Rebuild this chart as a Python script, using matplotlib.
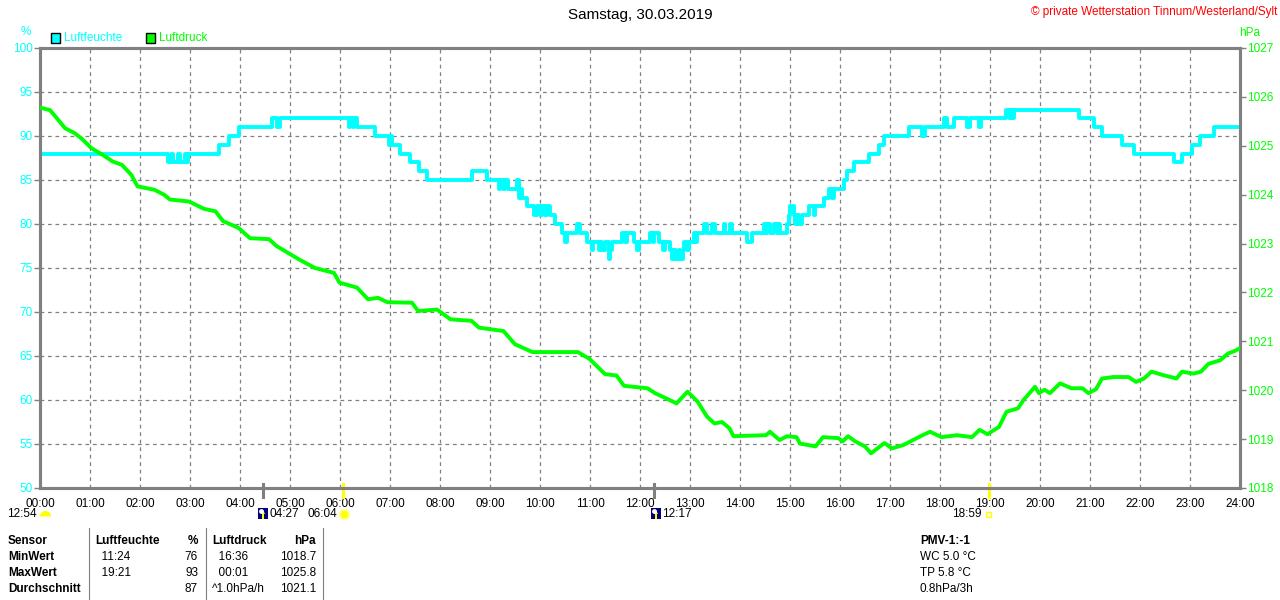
import matplotlib
matplotlib.use("Agg")
import matplotlib.pyplot as plt
from matplotlib.patches import Rectangle, Polygon
from matplotlib.lines import Line2D

plt.rcParams['font.family'] = ['Liberation Sans', 'DejaVu Sans']

# ---------------- data ----------------
title = "Samstag, 30.03.2019"
copyright_txt = "\u00a9 private Wetterstation Tinnum/Westerland/Sylt"

# Luftfeuchte (%), step values: start time in hours, value
hum_t = [0.0, 2.56, 2.62, 2.66, 2.76, 2.8, 2.9, 2.93, 2.96, 3.57, 3.77, 3.97,
         4.63, 4.73, 4.8, 6.17, 6.2, 6.25, 6.27, 6.33, 6.7, 6.97, 7.0, 7.03,
         7.2, 7.4, 7.57, 7.73, 8.63, 8.93, 9.17, 9.2, 9.25, 9.3, 9.37, 9.53,
         9.57, 9.6, 9.63, 9.73, 9.87, 9.93, 10.0, 10.03, 10.1, 10.13, 10.2,
         10.3, 10.43, 10.5, 10.53, 10.73, 10.8, 10.93, 11.03, 11.06, 11.17,
         11.2, 11.23, 11.3, 11.37, 11.4, 11.43, 11.63, 11.7, 11.73, 11.87,
         11.93, 11.97, 12.2, 12.25, 12.28, 12.37, 12.45, 12.5, 12.6, 12.63,
         12.68, 12.72, 12.77, 12.8, 12.85, 12.87, 12.93, 12.97, 13.07, 13.1,
         13.13, 13.27, 13.33, 13.43, 13.5, 13.67, 13.7, 13.8, 13.83, 14.13,
         14.23, 14.47, 14.5, 14.53, 14.6, 14.67, 14.73, 14.77, 14.8, 14.93,
         14.97, 15.0, 15.07, 15.1, 15.13, 15.17, 15.23, 15.37, 15.47, 15.5,
         15.67, 15.77, 15.83, 15.87, 16.07, 16.13, 16.27, 16.57, 16.77, 16.87,
         17.37, 17.63, 17.7, 18.07, 18.13, 18.27, 18.53, 18.6, 18.77, 18.83,
         19.33, 19.37, 19.4, 19.43, 19.47, 20.77, 21.07, 21.23, 21.63, 21.87,
         22.67, 22.83, 23.03, 23.2, 23.47, 24.0]
hum_v = [88, 87, 88, 87, 88, 87, 88, 87, 88, 89, 90, 91,
         92, 91, 92, 91, 92, 91, 92, 91, 90, 89, 90, 89,
         88, 87, 86, 85, 86, 85, 84, 85, 84, 85, 84, 85,
         83, 84, 83, 82, 81, 82, 81, 82, 81, 82, 81,
         80, 79, 78, 79, 80, 79, 78, 77, 78, 77,
         78, 77, 78, 76, 77, 78, 79, 78, 79, 78,
         77, 78, 79, 78, 79, 78, 77, 78, 77, 76,
         77, 76, 77, 76, 77, 78, 77, 78, 79, 78,
         79, 80, 79, 80, 79, 80, 79, 80, 79, 78,
         79, 80, 79, 80, 79, 80, 79, 80, 79, 80,
         81, 82, 81, 80, 81, 80, 81, 82, 81, 82,
         83, 84, 83, 84, 85, 86, 87, 88, 89, 90,
         91, 90, 91, 92, 91, 92, 91, 92, 91, 92,
         93, 92, 93, 92, 93, 92, 91, 90, 89, 88,
         87, 88, 89, 90, 91, 91]

# Luftdruck (hPa)
pres_t = [0.0, 0.2, 0.34, 0.5, 0.69, 0.84, 1.03, 1.26, 1.45, 1.64, 1.83, 1.95,
          2.29, 2.48, 2.6, 2.98, 3.28, 3.51, 3.66, 3.97, 4.2, 4.58, 4.73, 4.96,
          5.19, 5.5, 5.88, 5.99, 6.34, 6.56, 6.76, 6.95, 7.44, 7.56, 7.94, 8.21,
          8.63, 8.78, 9.27, 9.5, 9.85, 10.76, 10.99, 11.3, 11.53, 11.68, 12.15,
          12.3, 12.53, 12.73, 12.95, 13.15, 13.34, 13.49, 13.64, 13.79, 13.87,
          14.52, 14.6, 14.79, 14.94, 15.13, 15.2, 15.51, 15.66, 15.97, 16.05,
          16.16, 16.31, 16.5, 16.62, 16.89, 17.04, 17.27, 17.65, 17.8, 18.03,
          18.34, 18.64, 18.79, 18.95, 19.18, 19.33, 19.56, 19.67, 19.79, 19.9,
          19.98, 20.09, 20.2, 20.4, 20.63, 20.85, 20.97, 21.12, 21.24, 21.47,
          21.77, 21.92, 22.08, 22.23, 22.46, 22.73, 22.84, 23.07, 23.22, 23.37,
          23.6, 23.76, 23.91, 24.0]
pres_v = [1025.78, 1025.73, 1025.56, 1025.36, 1025.26, 1025.14, 1024.95, 1024.81,
          1024.68, 1024.61, 1024.40, 1024.17, 1024.10, 1024.00, 1023.90, 1023.86,
          1023.71, 1023.66, 1023.46, 1023.32, 1023.11, 1023.09, 1022.95, 1022.81,
          1022.67, 1022.50, 1022.40, 1022.20, 1022.10, 1021.86, 1021.89, 1021.80,
          1021.79, 1021.62, 1021.65, 1021.45, 1021.42, 1021.28, 1021.21, 1020.94,
          1020.78, 1020.78, 1020.64, 1020.33, 1020.30, 1020.09, 1020.04, 1019.94,
          1019.83, 1019.73, 1019.97, 1019.77, 1019.46, 1019.32, 1019.35, 1019.22,
          1019.06, 1019.08, 1019.15, 1018.98, 1019.06, 1019.04, 1018.91, 1018.85,
          1019.04, 1019.02, 1018.95, 1019.06, 1018.95, 1018.85, 1018.71, 1018.92,
          1018.81, 1018.88, 1019.08, 1019.15, 1019.04, 1019.08, 1019.04, 1019.19,
          1019.10, 1019.25, 1019.56, 1019.63, 1019.80, 1019.94, 1020.07, 1019.94,
          1020.01, 1019.94, 1020.14, 1020.04, 1020.04, 1019.94, 1020.02, 1020.24,
          1020.27, 1020.27, 1020.17, 1020.24, 1020.38, 1020.31, 1020.24, 1020.38,
          1020.34, 1020.38, 1020.54, 1020.61, 1020.75, 1020.81, 1020.86]

x_ticks = list(range(0, 25))
x_labels = ["%02d:00" % h for h in x_ticks]

# sun / moon events (hours) shown on the time axis
event_t = [4.45, 6.067, 12.283, 18.983]
event_col = ["#808080", "#ffff00", "#808080", "#ffff00"]

table_rows = [
    ["Sensor", "Luftfeuchte", "%", "Luftdruck", "hPa"],
    ["MinWert", "  11:24", "76", "  16:36", "1018.7"],
    ["MaxWert", "  19:21", "93", "  00:01", "1025.8"],
    ["Durchschnitt", "", "87", "^1.0hPa/h", "1021.1"],
]
info_lines = ["PMV-1:-1", "WC 5.0 \u00b0C", "TP 5.8 \u00b0C", "0.8hPa/3h"]

CYAN = "#00ffff"
GREEN = "#00ff00"
GREY = "#808080"

W, H = 1280, 600
def fx(x):
    return x / W
def fy(y):
    return 1 - y / H

# ---------------- figure ----------------
fig = plt.figure(figsize=(12.8, 6), dpi=100)
ax = fig.add_axes([fx(40), fy(488), (1240 - 40) / W, (488 - 48) / H])
ax2 = ax.twinx()

ax.plot(hum_t, hum_v, drawstyle="steps-post", color=CYAN, lw=2.8, zorder=3)
ax2.plot(pres_t, pres_v, color=GREEN, lw=2.8, zorder=3)

ax.set_xlim(0, 24)
ax.set_ylim(50, 100)
ax2.set_ylim(1018, 1027)
ax.set_xticks(x_ticks)
ax.set_xticklabels(x_labels, fontsize=8.5)
ax.set_yticks(range(50, 101, 5))
ax.set_yticklabels([str(v) for v in range(50, 101, 5)], fontsize=8.5, color=CYAN)
ax2.set_yticks(range(1018, 1028))
ax2.set_yticklabels([str(v) for v in range(1018, 1028)], fontsize=8.5, color=GREEN)
ax.tick_params(axis="x", length=0, pad=7)
ax.tick_params(axis="y", length=4, width=1, color=GREY, pad=1)
ax2.tick_params(axis="y", length=4, width=1, color=GREY, pad=1)

ax.grid(True, color=GREY, ls=(0, (3, 3)), lw=0.9)
ax.set_axisbelow(True)
for a in (ax, ax2):
    for s in a.spines.values():
        s.set_color(GREY)
        s.set_linewidth(2.2)
ax2.set_zorder(ax.get_zorder() + 1)
ax2.patch.set_visible(False)

# event markers on the time axis
for t, c in zip(event_t, event_col):
    ax.plot([t, t], [50.45, 48.98], color=c, lw=2.2, clip_on=False, zorder=5)

# axis unit labels
fig.text(fx(26), fy(32), "%", color=CYAN, fontsize=8.5, ha="center", va="center")
fig.text(fx(1250), fy(33), "hPa", color=GREEN, fontsize=8.5, ha="center", va="center")

# legend
fig.add_artist(Rectangle((fx(50.5), fy(42.5)), 9 / W, 9 / H, transform=fig.transFigure,
                         facecolor=CYAN, edgecolor="black", lw=1))
fig.text(fx(64), fy(38), "Luftfeuchte", color=CYAN, fontsize=8.5, va="center")
fig.add_artist(Rectangle((fx(145.5), fy(42.5)), 9 / W, 9 / H, transform=fig.transFigure,
                         facecolor=GREEN, edgecolor="black", lw=1))
fig.text(fx(159), fy(38), "Luftdruck", color=GREEN, fontsize=8.5, va="center")

# title and copyright
fig.text(0.5, fy(15), title, fontsize=11, ha="center", va="center")
fig.text(fx(1277), fy(12), copyright_txt, fontsize=8.5, color="red", ha="right", va="center")

# sun / moon labels below time axis
fig.text(fx(37), fy(514), "12:54", fontsize=8.5, ha="right", va="center")
fig.add_artist(Line2D([fx(44.5)], [fy(516)], transform=fig.transFigure, marker="o",
                      markersize=8, fillstyle="top", markerfacecolor="#ffff00",
                      markerfacecoloralt="none", markeredgecolor="none"))
for xi, lab in [(258, "04:27"), (651, "12:17")]:
    fig.add_artist(Rectangle((fx(xi), fy(519)), 10 / W, 11 / H, transform=fig.transFigure,
                             facecolor="#000080", edgecolor="none"))
    fig.add_artist(Line2D([fx(xi + 3)], [fy(511)], transform=fig.transFigure, marker="o",
                          markersize=3.5, color="white", markeredgecolor="none"))
    fig.add_artist(Polygon([(fx(xi + 3), fy(514)), (fx(xi + 7), fy(514)), (fx(xi + 5), fy(510))],
                           closed=True, transform=fig.transFigure, facecolor="#ffff00",
                           edgecolor="none"))
    fig.add_artist(Rectangle((fx(xi + 4.2), fy(519)), 1.6 / W, 5 / H, transform=fig.transFigure,
                             facecolor="#ffff00", edgecolor="none"))
    fig.text(fx(xi + 11), fy(514), lab, fontsize=8.5, ha="left", va="center")
fig.text(fx(337), fy(514), "06:04", fontsize=8.5, ha="right", va="center")
fig.add_artist(Line2D([fx(344)], [fy(514)], transform=fig.transFigure, marker="o",
                      markersize=7, markerfacecolor="#ffff00", markeredgecolor="#ffffa0",
                      markeredgewidth=1.5))
fig.text(fx(982), fy(514), "18:59", fontsize=8.5, ha="right", va="center")
fig.add_artist(Rectangle((fx(986), fy(517)), 5 / W, 5 / H, transform=fig.transFigure,
                         facecolor="none", edgecolor="#ffff00", lw=1))

# table
for xs in (89, 206, 323):
    fig.add_artist(Line2D([fx(xs), fx(xs)], [fy(528), fy(600)], transform=fig.transFigure,
                          color=GREY, lw=0.8))
col_x = [8, 95, 198, 212, 316]
col_ha = ["left", "left", "right", "left", "right"]
row_y = [541.5, 557.5, 573.5, 589.5]
for r, row in enumerate(table_rows):
    for c, txt in enumerate(row):
        bold = (r == 0) or (c == 0)
        fig.text(fx(col_x[c]), fy(row_y[r]), txt, fontsize=8.5, ha=col_ha[c], va="center",
                 fontweight="bold" if bold else "normal")
for i, txt in enumerate(info_lines):
    fig.text(fx(920), fy(row_y[i]), txt, fontsize=8.5, ha="left", va="center",
             fontweight="bold" if i == 0 else "normal")

fig.savefig("out.png", dpi=100)
